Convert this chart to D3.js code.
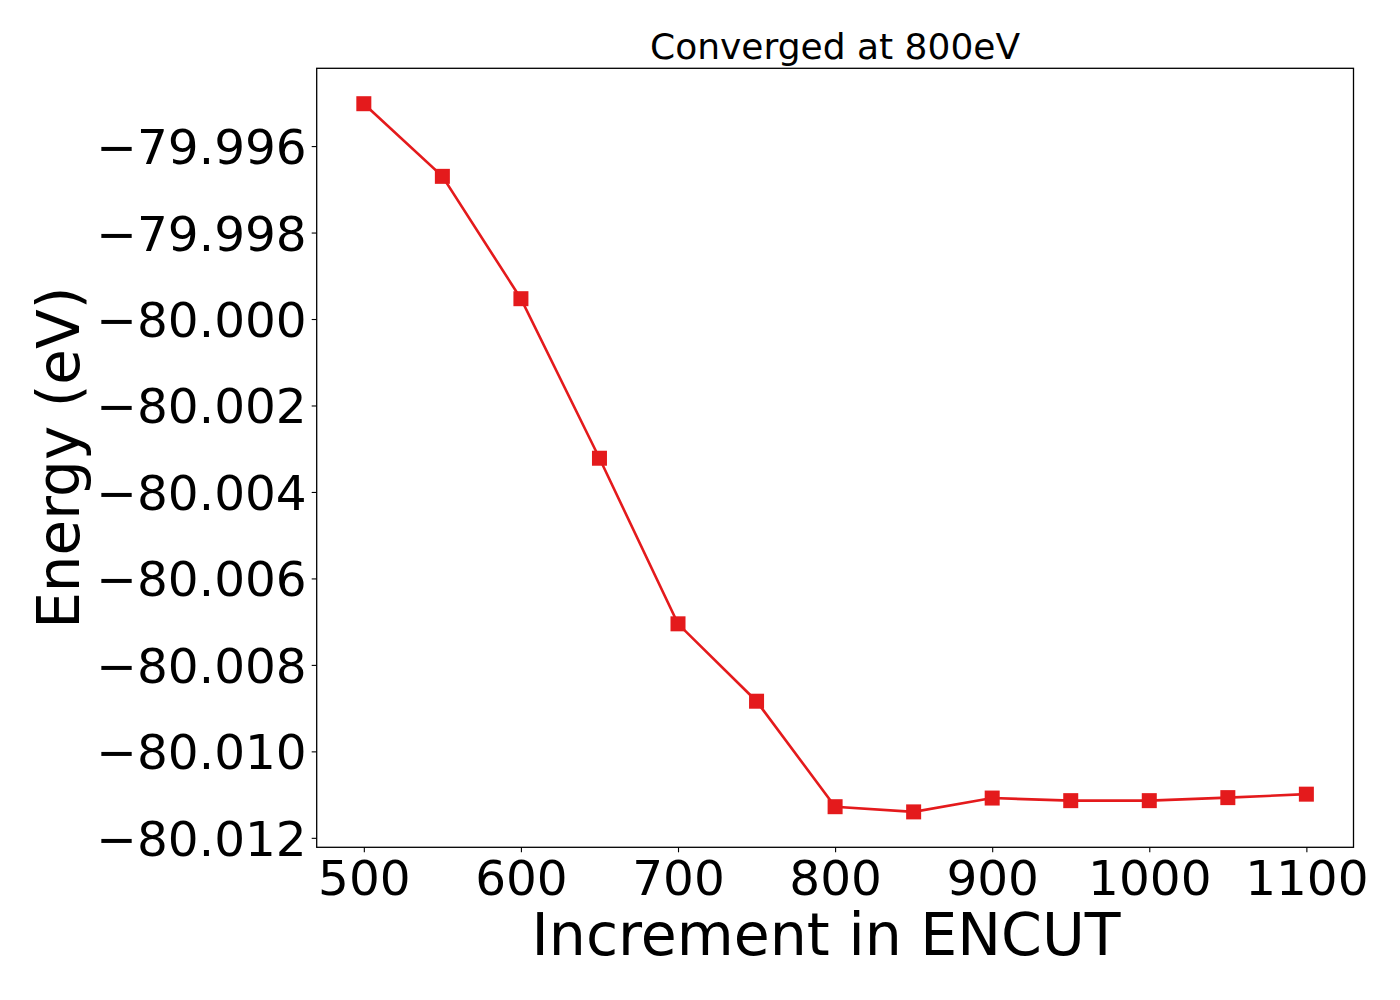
<!DOCTYPE html>
<html>
<head>
<meta charset="utf-8">
<script src="https://cdn.jsdelivr.net/npm/d3@7"></script>
<style>
  body { margin: 0; background: #fff; }
  svg { font-family: "DejaVu Sans", sans-serif; }
</style>
</head>
<body>
<div id="app"></div>
<script>
// ENCUT steps and total energies
const encut = [500, 550, 600, 650, 700, 750, 800, 850, 900, 950, 1000, 1050, 1100]
const energy = [-79.99502, -79.99670, -79.99953, -80.00322, -80.00705, -80.00884,
  -80.01128, -80.01140, -80.01108, -80.01114, -80.01114, -80.01107, -80.01099]
const xTicks = [500, 600, 700, 800, 900, 1000, 1100]
const yTicks = [-79.996, -79.998, -80.000, -80.002, -80.004, -80.006, -80.008, -80.010, -80.012]

const width = 1400,
  height = 1000,
  plotLeft = 316.7,
  plotRight = 1353.5,
  plotTop = 68.3,
  plotBottom = 847.3;

const red = "#e41a1c"

const svg = d3.select("#app")
  .append("svg")
  .attr("width", width)
  .attr("height", height)

// matplotlib style 5% margins around the data
const xPad = (d3.max(encut) - d3.min(encut)) * 0.05
const yPad = (d3.max(energy) - d3.min(energy)) * 0.05

const x = d3.scaleLinear()
  .domain([d3.min(encut) - xPad, d3.max(encut) + xPad])
  .range([plotLeft, plotRight])

const y = d3.scaleLinear()
  .domain([d3.min(energy) - yPad, d3.max(energy) + yPad])
  .range([plotBottom, plotTop])

const fmt = d => (d < 0 ? "\u2212" : "") + Math.abs(d).toFixed(3)

const xAxis = svg.append("g")
  .attr("transform", `translate(0,${plotBottom})`)
  .call(d3.axisBottom(x).tickValues(xTicks).tickSize(5).tickPadding(6).tickFormat(d3.format("d")))

const yAxis = svg.append("g")
  .attr("transform", `translate(${plotLeft},0)`)
  .call(d3.axisLeft(y).tickValues(yTicks).tickSize(5).tickPadding(5).tickFormat(fmt))

xAxis.selectAll("text")
  .attr("font-size", 48.5)
  .attr("font-family", "DejaVu Sans")
  .attr("fill", "#000")
  .attr("dy", "0.76em")

yAxis.selectAll("text")
  .attr("font-size", 48.5)
  .attr("font-family", "DejaVu Sans")
  .attr("fill", "#000")
  .attr("dy", "0.36em")

svg.selectAll(".domain").remove()
svg.selectAll(".tick line").attr("stroke", "#000").attr("stroke-width", 1.1)

// frame
svg.append("rect")
  .attr("x", plotLeft)
  .attr("y", plotTop)
  .attr("width", plotRight - plotLeft)
  .attr("height", plotBottom - plotTop)
  .attr("fill", "none")
  .attr("stroke", "#000")
  .attr("stroke-width", 1.3)

const line = d3.line()
  .x((d, i) => x(encut[i]))
  .y(d => y(d))

svg.append("path")
  .datum(energy)
  .attr("d", line)
  .attr("fill", "none")
  .attr("stroke", red)
  .attr("stroke-width", 2.6)

const ms = 15
svg.selectAll(".pt")
  .data(energy)
  .enter()
  .append("rect")
  .attr("class", "pt")
  .attr("x", (d, i) => x(encut[i]) - ms / 2)
  .attr("y", d => y(d) - ms / 2)
  .attr("width", ms)
  .attr("height", ms)
  .attr("fill", red)

svg.append("text")
  .attr("x", (plotLeft + plotRight) / 2)
  .attr("y", 59)
  .attr("text-anchor", "middle")
  .attr("font-size", 36)
  .text("Converged at 800eV")

svg.append("text")
  .attr("x", 826)
  .attr("y", 955)
  .attr("text-anchor", "middle")
  .attr("font-size", 58.5)
  .text("Increment in ENCUT")

svg.append("text")
  .attr("transform", `translate(79,${(plotTop + plotBottom) / 2}) rotate(-90)`)
  .attr("text-anchor", "middle")
  .attr("font-size", 58)
  .text("Energy (eV)")
</script>
</body>
</html>
